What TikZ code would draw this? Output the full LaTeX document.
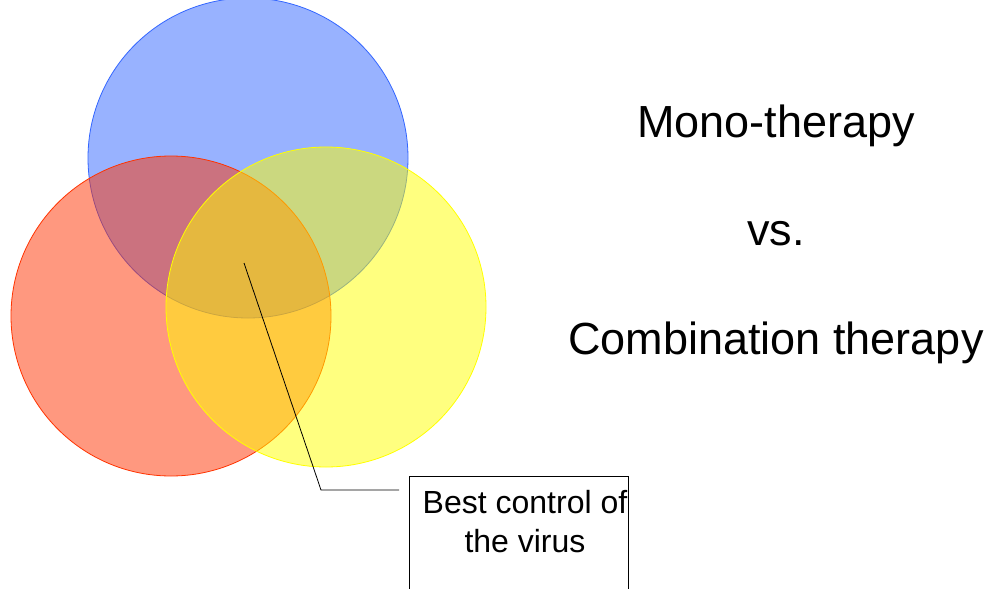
\documentclass[tikz,border=0pt]{standalone}
\usepackage{fontspec}
\setmainfont{Liberation Sans}
\definecolor{cblue}{HTML}{3366FF}
\definecolor{cred}{HTML}{FF3300}
\definecolor{cyellow}{HTML}{FFFF00}
\begin{document}
\begin{tikzpicture}[x=1pt,y=-1pt,
  venn/.style={fill opacity=0.5, draw opacity=1, line width=0.8pt},
  bigtext/.style={anchor=base, inner sep=0pt, font=\fontsize{45}{54}\selectfont},
  boxtext/.style={anchor=base, inner sep=0pt, align=center, font=\fontsize{32}{39}\selectfont},
  leader/.style={draw=black, line width=0.8pt}]
\useasboundingbox (0,0) rectangle (989,589);
\begin{scope}
\clip (0,0) rectangle (989,589);
\fill[white] (0,0) rectangle (989,589);
\draw[venn, draw=cblue, fill=cblue] (248,158) circle (160);
\draw[venn, draw=cred, fill=cred] (171,316) circle (160);
\draw[venn, draw=cyellow, fill=cyellow] (326,307) circle (160);
\draw[black, line width=0.8pt] (409,476) rectangle (628,620);
\end{scope}
\node[bigtext] (mono) at (776,137) {Mono-therapy};
\node[bigtext] (vs) at (776,245) {vs.};
\node[bigtext] (combo) at (776,354) {Combination therapy};
\node[boxtext] (best) at (525,513) {Best control of};
\node[boxtext] (virus) at (525,552) {the virus};
\coordinate (centre) at (244,263);
\coordinate (bend) at (321,490);
\coordinate (tail) at (399,490);
\draw[leader] (centre) -- (bend) -- (tail);
\end{tikzpicture}
\end{document}
